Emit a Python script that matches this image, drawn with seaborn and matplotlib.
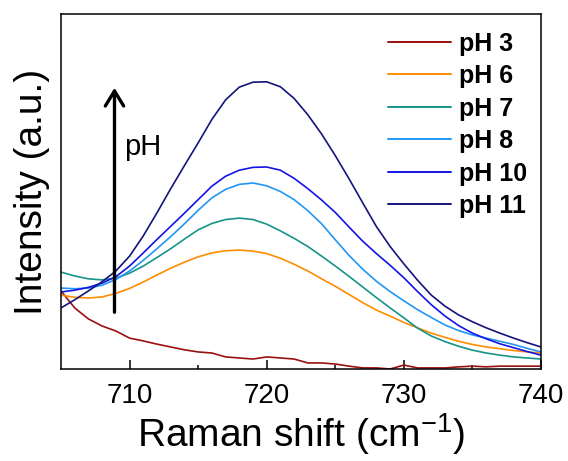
import numpy as np
import pandas as pd
import matplotlib
matplotlib.use("Agg")
import matplotlib.pyplot as plt
import seaborn as sns

# Raman shift axis (cm^-1) and normalised intensities of each spectrum
raman_shift = list(range(705, 741))

ph3 = [0.220, 0.172, 0.141, 0.121, 0.107, 0.087, 0.079, 0.070, 0.062, 0.054,
       0.048, 0.045, 0.034, 0.031, 0.028, 0.034, 0.031, 0.028, 0.017, 0.017,
       0.014, 0.008, 0.003, 0.003, 0.000, 0.011, 0.003, 0.003, 0.003, 0.006,
       0.008, 0.006, 0.008, 0.008, 0.008, 0.008]
ph6 = [0.208, 0.202, 0.200, 0.203, 0.213, 0.227, 0.245, 0.265, 0.284, 0.301,
       0.316, 0.327, 0.333, 0.335, 0.332, 0.325, 0.312, 0.295, 0.276, 0.254,
       0.233, 0.210, 0.187, 0.166, 0.149, 0.131, 0.116, 0.101, 0.089, 0.078,
       0.069, 0.062, 0.057, 0.052, 0.048, 0.045]
ph7 = [0.273, 0.262, 0.254, 0.251, 0.256, 0.270, 0.290, 0.314, 0.339, 0.366,
       0.392, 0.410, 0.421, 0.425, 0.421, 0.408, 0.389, 0.368, 0.345, 0.318,
       0.290, 0.261, 0.231, 0.201, 0.172, 0.144, 0.115, 0.093, 0.077, 0.064,
       0.053, 0.045, 0.039, 0.034, 0.031, 0.028]
ph8 = [0.228, 0.226, 0.228, 0.236, 0.252, 0.276, 0.306, 0.339, 0.373, 0.409,
       0.447, 0.482, 0.506, 0.520, 0.524, 0.516, 0.500, 0.477, 0.446, 0.409,
       0.364, 0.320, 0.281, 0.247, 0.218, 0.192, 0.167, 0.145, 0.124, 0.108,
       0.096, 0.087, 0.078, 0.069, 0.058, 0.048]
ph10 = [0.217, 0.222, 0.230, 0.242, 0.260, 0.290, 0.327, 0.365, 0.402, 0.439,
        0.477, 0.515, 0.543, 0.560, 0.568, 0.569, 0.560, 0.537, 0.508, 0.476,
        0.441, 0.400, 0.360, 0.325, 0.292, 0.257, 0.218, 0.181, 0.149, 0.122,
        0.101, 0.085, 0.071, 0.060, 0.049, 0.039]
ph11 = [0.172, 0.195, 0.220, 0.246, 0.276, 0.318, 0.375, 0.440, 0.508, 0.573,
        0.637, 0.703, 0.758, 0.794, 0.808, 0.809, 0.795, 0.762, 0.716, 0.662,
        0.601, 0.536, 0.468, 0.401, 0.345, 0.296, 0.250, 0.208, 0.177, 0.152,
        0.133, 0.116, 0.101, 0.087, 0.074, 0.062]

labels = ["pH 3", "pH 6", "pH 7", "pH 8", "pH 10", "pH 11"]
series = [ph3, ph6, ph7, ph8, ph10, ph11]
colors = ["#9b1010", "#ff8c00", "#179488", "#2196f3", "#1414e6", "#14147a"]

x_ticks = [710, 720, 730, 740]

df = pd.concat(
    [pd.DataFrame({"shift": raman_shift, "intensity": s, "sample": lab})
     for lab, s in zip(labels, series)],
    ignore_index=True,
)

sns.set_theme(style="ticks")
plt.rcParams["font.family"] = ["Liberation Sans", "DejaVu Sans"]
plt.rcParams["mathtext.fontset"] = "custom"
plt.rcParams["mathtext.rm"] = "Liberation Sans"
plt.rcParams["mathtext.it"] = "Liberation Sans"
plt.rcParams["text.color"] = "black"
plt.rcParams["axes.labelcolor"] = "black"
plt.rcParams["xtick.color"] = "black"
plt.rcParams["ytick.color"] = "black"

fig = plt.figure(figsize=(5.68, 4.61), dpi=100)
ax = fig.add_axes([0.1074, 0.1996, 0.8451, 0.7700])

sns.lineplot(data=df, x="shift", y="intensity", hue="sample",
             palette=dict(zip(labels, colors)), hue_order=labels,
             estimator=None, sort=False, linewidth=1.2, ax=ax)

ax.set_xlim(705, 740)
ax.set_ylim(0, 1.0)
ax.set_xticks(x_ticks)
ax.set_xticks([715, 725, 735], minor=True)
ax.set_yticks([])
ax.tick_params(axis="x", which="major", direction="in", length=6.5, width=1.1,
               labelsize=20, pad=10, colors="black")
ax.tick_params(axis="x", which="minor", direction="in", length=3.2, width=1.1,
               colors="black")
for sp in ax.spines.values():
    sp.set_linewidth(1.1)
    sp.set_color("black")
    sp.set_visible(True)

ax.set_xlabel("Raman shift (cm$^{-1}$)", fontsize=28, labelpad=2)
ax.set_ylabel("Intensity (a.u.)", fontsize=28, labelpad=8)

# arrow showing increasing pH
ax.annotate("", xy=(708.9, 0.800), xytext=(708.9, 0.152),
            arrowprops=dict(arrowstyle="->,head_length=0.9,head_width=0.55",
                            lw=2.4, color="black"))
ax.text(709.6, 0.625, "pH", fontsize=21, ha="left", va="center")

handles, labs = ax.get_legend_handles_labels()
leg = ax.legend(handles, labs, loc="upper right", frameon=False,
                prop={"weight": "bold", "size": 18}, handlelength=2.5,
                handletextpad=0.32, labelspacing=0.34,
                bbox_to_anchor=(1.007, 1.0), borderaxespad=0.3)
for h in leg.get_lines():
    h.set_linewidth(1.4)

fig.savefig("out.png", dpi=100, facecolor="white")
